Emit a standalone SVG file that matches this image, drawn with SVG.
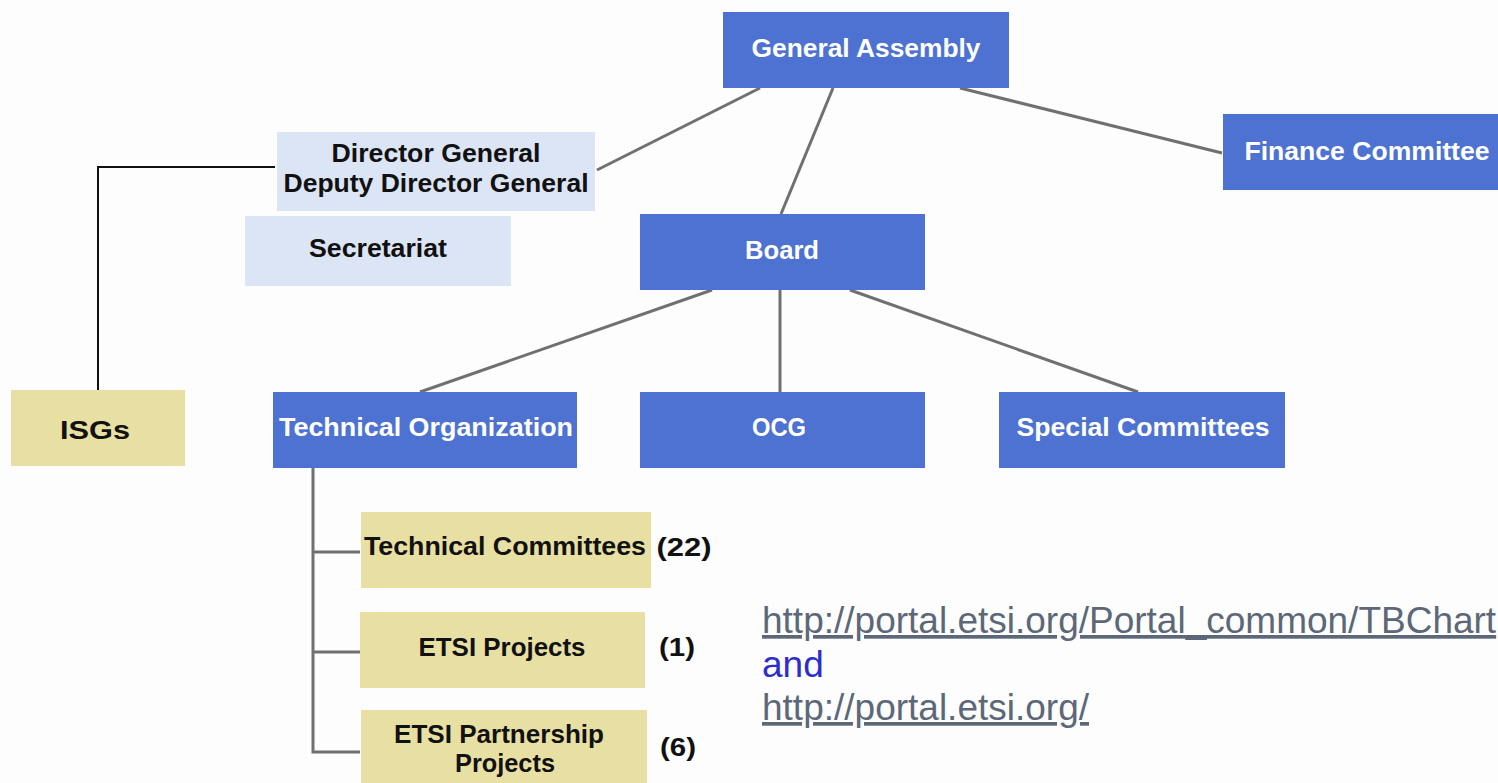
<svg xmlns="http://www.w3.org/2000/svg" width="1498" height="783" viewBox="0 0 1498 783">
<style>
.blue{fill:#4d72d2}
.lblue{fill:#dce5f6}
.khaki{fill:#e8dfa2}
.wt{font-family:"Liberation Sans",Arial,sans-serif;font-weight:bold;font-size:26px;fill:#ffffff;text-anchor:middle}
.bt{font-family:"Liberation Sans",Arial,sans-serif;font-weight:bold;font-size:26px;fill:#111111;text-anchor:middle}
.con{stroke:#707070;stroke-width:3;fill:none}
.blk{stroke:#111111;stroke-width:2;fill:none}
.link{font-family:"Liberation Sans",Arial,sans-serif;font-size:37px;fill:#5c6878;text-decoration:underline}
.and{font-family:"Liberation Sans",Arial,sans-serif;font-size:37px;fill:#2d2dcc}
</style>
<rect width="1498" height="783" fill="#fdfdfd"/>
<g id="connectors">
<line class="con" x1="760" y1="88" x2="597" y2="170"/>
<line class="con" x1="833" y1="88" x2="781" y2="214"/>
<line class="con" x1="960" y1="88" x2="1222" y2="153"/>
<line class="con" x1="712" y1="290" x2="420" y2="392"/>
<line class="con" x1="780" y1="290" x2="780" y2="392"/>
<line class="con" x1="850" y1="290" x2="1138" y2="392"/>
<polyline class="blk" points="275,167 98,167 98,390"/>
<polyline class="con" points="313,467 313,752 360,752"/>
<line class="con" x1="313" y1="552" x2="360" y2="552"/>
<line class="con" x1="313" y1="652" x2="360" y2="652"/>
</g>
<g id="general-assembly">
<rect class="blue" x="723" y="12" width="286" height="76"/>
<text class="wt" x="866" y="57" textLength="229" lengthAdjust="spacingAndGlyphs">General Assembly</text>
</g>
<g id="finance-committee">
<rect class="blue" x="1223" y="114" width="285" height="76"/>
<text class="wt" x="1367" y="160" textLength="245" lengthAdjust="spacingAndGlyphs">Finance Committee</text>
</g>
<g id="director-general">
<rect class="lblue" x="277" y="132" width="318" height="79"/>
<text class="bt" x="436" y="162" textLength="209" lengthAdjust="spacingAndGlyphs">Director General</text>
<text class="bt" x="436" y="192" textLength="305" lengthAdjust="spacingAndGlyphs">Deputy Director General</text>
</g>
<g id="secretariat">
<rect class="lblue" x="245" y="216" width="266" height="70"/>
<text class="bt" x="378" y="257" textLength="138" lengthAdjust="spacingAndGlyphs">Secretariat</text>
</g>
<g id="board">
<rect class="blue" x="640" y="214" width="285" height="76"/>
<text class="wt" x="782" y="259" textLength="74" lengthAdjust="spacingAndGlyphs">Board</text>
</g>
<g id="isgs">
<rect class="khaki" x="11" y="390" width="174" height="76"/>
<text class="bt" x="95" y="439" textLength="70" lengthAdjust="spacingAndGlyphs">ISGs</text>
</g>
<g id="technical-organization">
<rect class="blue" x="273" y="392" width="304" height="76"/>
<text class="wt" x="426" y="436" textLength="294" lengthAdjust="spacingAndGlyphs">Technical Organization</text>
</g>
<g id="ocg">
<rect class="blue" x="640" y="392" width="285" height="76"/>
<text class="wt" x="779" y="436" textLength="54" lengthAdjust="spacingAndGlyphs">OCG</text>
</g>
<g id="special-committees">
<rect class="blue" x="999" y="392" width="286" height="76"/>
<text class="wt" x="1143" y="436" textLength="253" lengthAdjust="spacingAndGlyphs">Special Committees</text>
</g>
<g id="technical-committees">
<rect class="khaki" x="361" y="512" width="290" height="76"/>
<text class="bt" x="505" y="555" textLength="282" lengthAdjust="spacingAndGlyphs">Technical Committees</text>
<text class="bt" x="684" y="556" textLength="55" lengthAdjust="spacingAndGlyphs">(22)</text>
</g>
<g id="etsi-projects">
<rect class="khaki" x="360" y="612" width="285" height="76"/>
<text class="bt" x="502" y="656" textLength="167" lengthAdjust="spacingAndGlyphs">ETSI Projects</text>
<text class="bt" x="677" y="656" textLength="36" lengthAdjust="spacingAndGlyphs">(1)</text>
</g>
<g id="etsi-partnership-projects">
<rect class="khaki" x="361" y="710" width="286" height="73"/>
<text class="bt" x="499" y="743" textLength="210" lengthAdjust="spacingAndGlyphs">ETSI Partnership</text>
<text class="bt" x="505" y="772" textLength="100" lengthAdjust="spacingAndGlyphs">Projects</text>
<text class="bt" x="678" y="756" textLength="36" lengthAdjust="spacingAndGlyphs">(6)</text>
</g>
<g id="links">
<text class="link" x="762" y="633">http://portal.etsi.org/Portal_common/TBChart</text>
<text class="and" x="762" y="677">and</text>
<text class="link" x="762" y="720">http://portal.etsi.org/</text>
</g>
</svg>
